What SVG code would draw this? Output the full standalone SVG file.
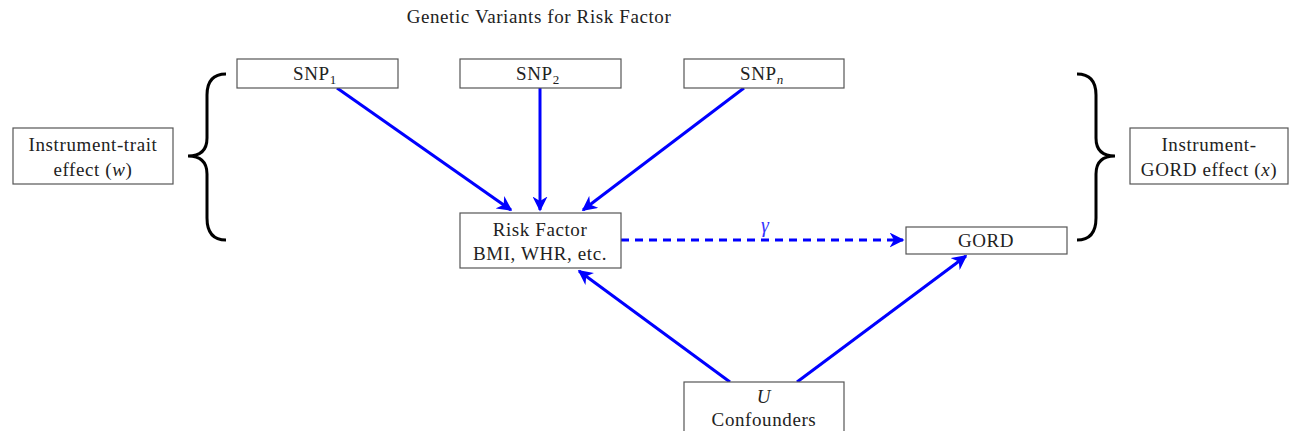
<svg xmlns="http://www.w3.org/2000/svg" width="1289" height="431" viewBox="0 0 1289 431">
<style>
.box{fill:#fff;stroke:#555;stroke-width:1.2}
.t{font-family:"Liberation Serif","DejaVu Serif",serif;font-size:19px;letter-spacing:0.6px;fill:#222;text-anchor:middle}
.e{stroke:#0000ff;stroke-width:3;fill:none}
.br{stroke:#000;stroke-width:3;fill:none}
</style>
<defs>
<marker id="ah" viewBox="0 0 10 10" refX="9" refY="5" markerWidth="5" markerHeight="5" orient="auto" markerUnits="strokeWidth">
<path d="M0,0 L10,5 L0,10 L3,5 Z" fill="#0000ff"/>
</marker>
</defs>
<rect width="1289" height="431" fill="#fff"/>
<text class="t" x="539" y="23">Genetic Variants for Risk Factor</text>
<g id="connectors">
<line class="e" x1="337" y1="88" x2="511" y2="210" marker-end="url(#ah)"/>
<line class="e" x1="540" y1="88" x2="540" y2="210" marker-end="url(#ah)"/>
<line class="e" x1="744" y1="88" x2="583" y2="210" marker-end="url(#ah)"/>
<line class="e" x1="621" y1="240" x2="903" y2="240" stroke-dasharray="8,6" marker-end="url(#ah)"/>
<text x="765" y="232" font-family="Liberation Serif,DejaVu Serif,serif" font-size="20" font-style="italic" fill="#3333ff" text-anchor="middle">γ</text>
<line class="e" x1="730" y1="382" x2="579" y2="271" marker-end="url(#ah)"/>
<line class="e" x1="797" y1="382" x2="966" y2="256" marker-end="url(#ah)"/>
</g>
<g id="brace-left">
<path class="br" d="M226,74 Q207,74 207,95 L207,138 Q207,156 188,156 Q207,156 207,174 L207,218 Q207,240 226,240"/>
</g>
<g id="brace-right">
<path class="br" d="M1077,74 Q1096,74 1096,95 L1096,138 Q1096,156 1115,156 Q1096,156 1096,174 L1096,218 Q1096,240 1077,240"/>
</g>
<g id="snp1"><rect class="box" x="237" y="59" width="161" height="29"/><text class="t" x="315" y="80">SNP<tspan font-size="13" dy="4">1</tspan></text></g>
<g id="snp2"><rect class="box" x="460" y="59" width="161" height="29"/><text class="t" x="538" y="80">SNP<tspan font-size="13" dy="4">2</tspan></text></g>
<g id="snpn"><rect class="box" x="684" y="59" width="160" height="29"/><text class="t" x="762" y="80">SNP<tspan font-size="13" dy="4" font-style="italic">n</tspan></text></g>
<g id="left"><rect class="box" x="13" y="128" width="160" height="56"/><text class="t" x="93" y="151">Instrument-trait</text><text class="t" x="93" y="176">effect (<tspan font-style="italic">w</tspan>)</text></g>
<g id="right"><rect class="box" x="1130" y="128" width="158" height="56"/><text class="t" x="1209" y="151">Instrument-</text><text class="t" x="1209" y="176">GORD effect (<tspan font-style="italic">x</tspan>)</text></g>
<g id="risk"><rect class="box" x="460" y="213" width="161" height="55"/><text class="t" x="540" y="236">Risk Factor</text><text class="t" x="540" y="260">BMI, WHR, etc.</text></g>
<g id="gord"><rect class="box" x="906" y="227" width="161" height="27"/><text class="t" x="986" y="247">GORD</text></g>
<g id="u"><rect class="box" x="684" y="382" width="160" height="60"/><text class="t" x="764" y="403" font-style="italic">U</text><text class="t" x="764" y="426">Confounders</text></g>
</svg>
